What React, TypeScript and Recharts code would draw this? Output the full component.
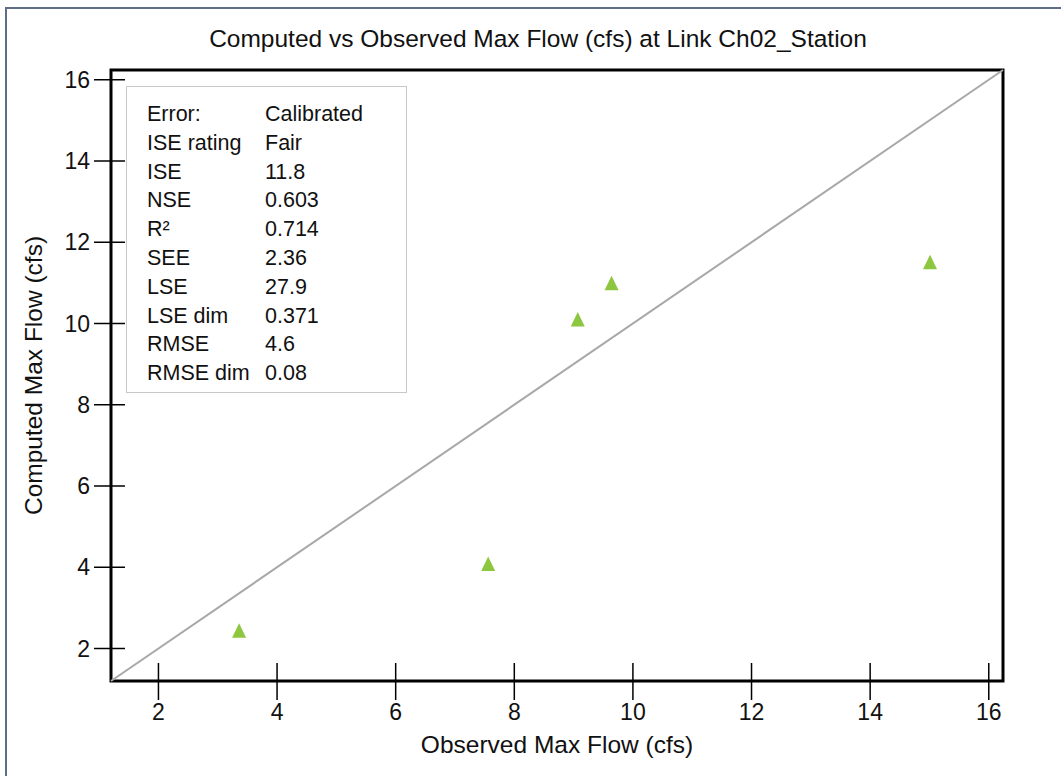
import React from 'react';
import {
	ScatterChart,
	Scatter,
	XAxis,
	YAxis,
	ZAxis,
	ReferenceLine,
	ReferenceArea,
} from 'recharts';

// observed vs computed max flow
const observed = [3.36, 7.56, 9.07, 9.64, 15.01];
const computed = [2.44, 4.08, 10.1, 10.99, 11.51];

const xTicks = [2, 4, 6, 8, 10, 12, 14, 16];
const yTicks = [2, 4, 6, 8, 10, 12, 14, 16];

const axisMin = 1.2;
const axisMax = 16.24;

const statLabels = ['Error:', 'ISE rating', 'ISE', 'NSE', 'R²', 'SEE', 'LSE', 'LSE dim', 'RMSE', 'RMSE dim'];
const statValues = ['Calibrated', 'Fair', '11.8', '0.603', '0.714', '2.36', '27.9', '0.371', '4.6', '0.08'];

const chartTitle = 'Computed vs Observed Max Flow (cfs) at Link Ch02_Station';
const xTitle = 'Observed Max Flow (cfs)';
const yTitle = 'Computed Max Flow (cfs)';

const FONT = "Arial, 'Liberation Sans', sans-serif";

const points = observed.map((x, i) => ({ x, y: computed[i] }));

const XTick = (props: any) => {
	const { x, y, payload } = props;
	return (
		<g>
			<line x1={x} x2={x} y1={y - 18} y2={y + 19} stroke='#000' strokeWidth={1.5} />
			<text x={x} y={y + 39} textAnchor='middle' fill='#111' style={{ fontSize: 23, fontFamily: FONT }}>
				{payload.value}
			</text>
		</g>
	);
};

const YTick = (props: any) => {
	const { x, y, payload } = props;
	return (
		<g>
			<line x1={x - 17} x2={x + 14} y1={y} y2={y} stroke='#000' strokeWidth={1.5} />
			<text x={x - 21} y={y + 8} textAnchor='end' fill='#111' style={{ fontSize: 23, fontFamily: FONT }}>
				{payload.value}
			</text>
		</g>
	);
};

const Triangle = (props: any) => {
	const { cx, cy } = props;
	return (
		<polygon
			points={`${cx},${cy - 7.5} ${cx + 7},${cy + 7} ${cx - 7},${cy + 7}`}
			fill='#8dc63f'
		/>
	);
};

const App = () => {
	return (
		<div
			style={{
				position: 'absolute',
				left: 0,
				top: 0,
				width: 1061,
				height: 776,
				background: '#fff',
				overflow: 'hidden',
				fontFamily: FONT,
			}}
		>
			{/* outer frame, clipped at right/bottom */}
			<div
				style={{
					position: 'absolute',
					left: 5,
					top: 7,
					width: 1100,
					height: 800,
					borderLeft: '2px solid #5f6d86',
					borderTop: '2px solid #5f6d86',
				}}
			/>
			<div style={{ position: 'absolute', left: 0, top: 0 }}>
				<ScatterChart
					width={1061}
					height={776}
					margin={{ top: 70, right: 58, bottom: 55, left: 51 }}
				>
					<XAxis
						type='number'
						dataKey='x'
						domain={[axisMin, axisMax]}
						ticks={xTicks}
						interval={0}
						allowDataOverflow
						axisLine={false}
						tickLine={false}
						tickSize={0}
						tickMargin={0}
						height={40}
						tick={<XTick />}
					/>
					<YAxis
						type='number'
						dataKey='y'
						domain={[axisMin, axisMax]}
						ticks={yTicks}
						interval={0}
						allowDataOverflow
						axisLine={false}
						tickLine={false}
						tickSize={0}
						tickMargin={0}
						width={60}
						tick={<YTick />}
					/>
					<ZAxis range={[100, 100]} />
					<ReferenceLine
						segment={[
							{ x: axisMin, y: axisMin },
							{ x: axisMax, y: axisMax },
						]}
						stroke='#a8a8a8'
						strokeWidth={2}
						ifOverflow='visible'
					/>
					<ReferenceArea
						x1={axisMin}
						x2={axisMax}
						y1={axisMin}
						y2={axisMax}
						fill='none'
						fillOpacity={0}
						stroke='#000'
						strokeWidth={3}
						ifOverflow='visible'
					/>
					<Scatter data={points} shape={<Triangle />} isAnimationActive={false} />
				</ScatterChart>
			</div>

			{/* titles */}
			<svg
				width={1061}
				height={776}
				style={{ position: 'absolute', left: 0, top: 0, pointerEvents: 'none' }}
			>
				<text x={538} y={47} textAnchor='middle' fontSize={24.5} fontFamily={FONT} fill='#111'>
					{chartTitle}
				</text>
				<text x={557} y={753} textAnchor='middle' fontSize={24.5} fontFamily={FONT} fill='#111'>
					{xTitle}
				</text>
				<text
					x={42}
					y={375.5}
					textAnchor='middle'
					fontSize={24.5}
					fontFamily={FONT}
					fill='#111'
					transform='rotate(-90, 42, 375.5)'
				>
					{yTitle}
				</text>
			</svg>

			{/* stats box */}
			<div
				style={{
					position: 'absolute',
					left: 126,
					top: 86,
					width: 281,
					height: 307,
					border: '1px solid #c8c8c8',
					background: '#fff',
					boxSizing: 'border-box',
				}}
			>
				{statLabels.map((label, i) => (
					<div
						key={label}
						style={{
							position: 'absolute',
							left: 20,
							top: 13 + i * 28.8,
							fontSize: 21.5,
							lineHeight: '28px',
							color: '#111',
							whiteSpace: 'nowrap',
						}}
					>
						<span style={{ display: 'inline-block', width: 118 }}>{label}</span>
						<span>{statValues[i]}</span>
					</div>
				))}
			</div>
		</div>
	);
};

export default App;
